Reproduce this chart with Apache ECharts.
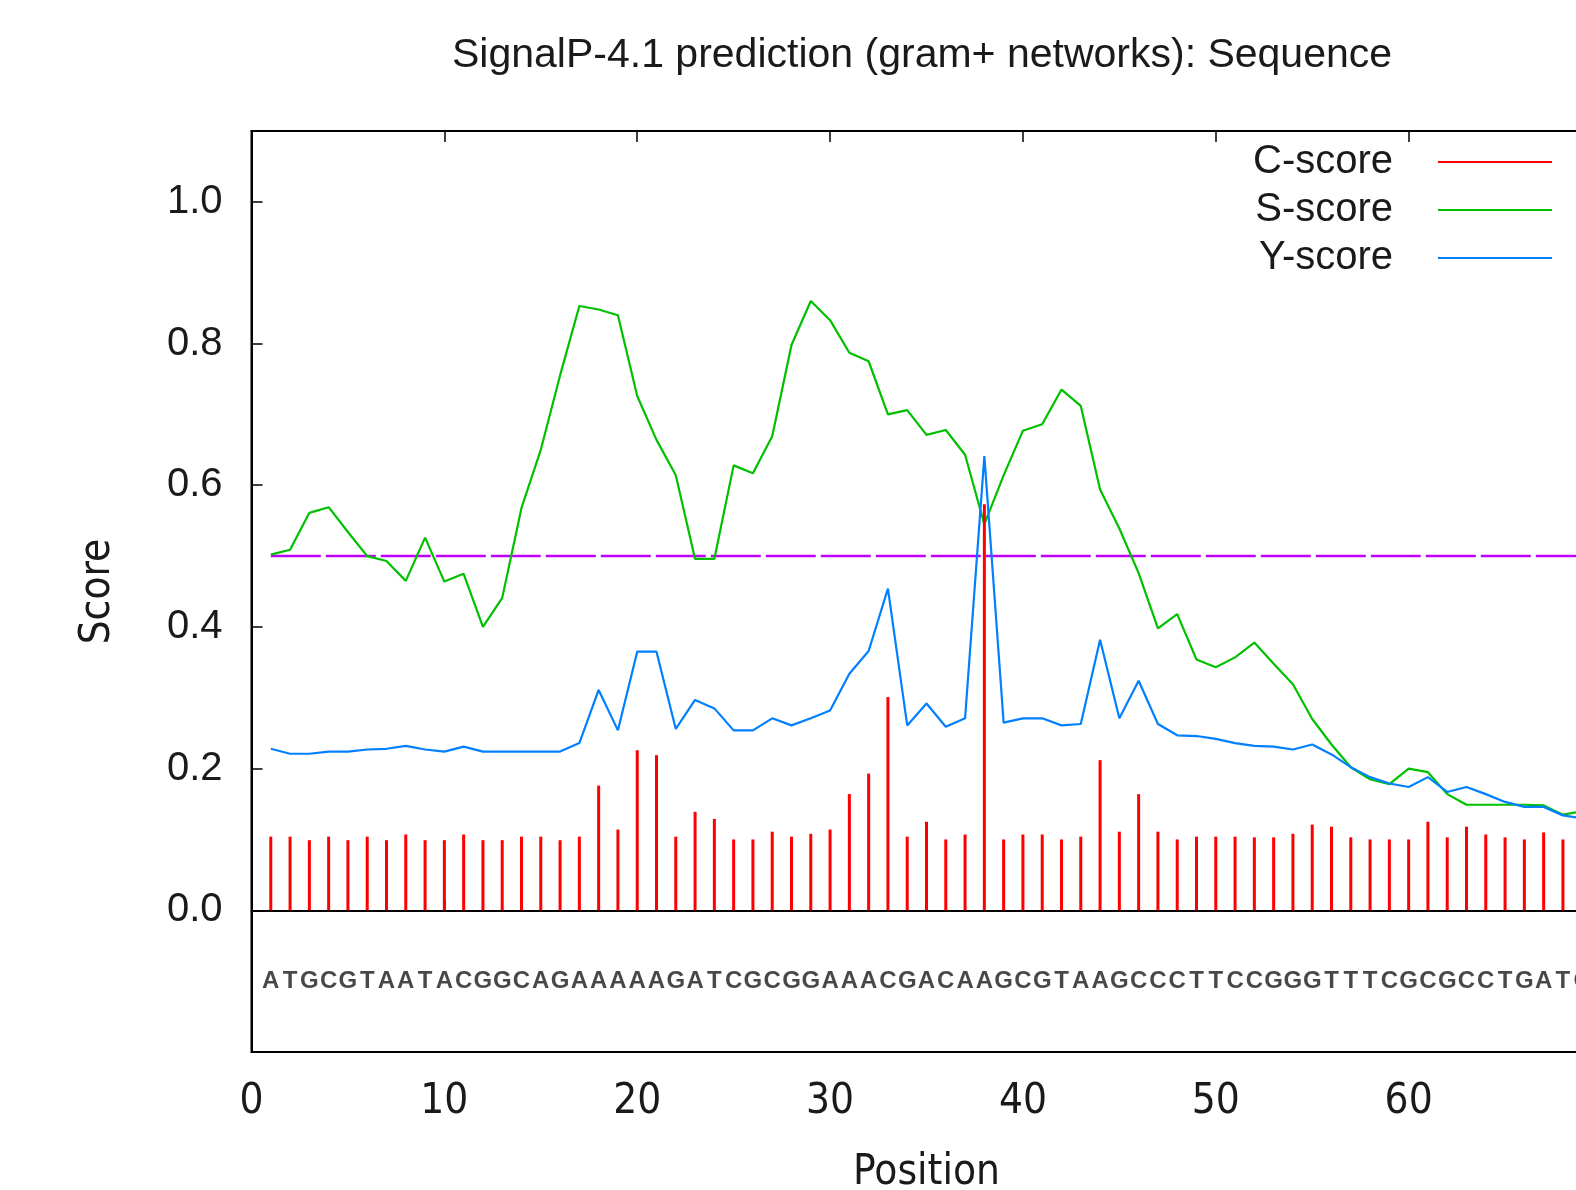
<!DOCTYPE html>
<html>
<head>
<meta charset="utf-8">
<title>SignalP-4.1 prediction</title>
<script src="https://cdn.jsdelivr.net/npm/echarts@6/dist/echarts.min.js"></script>
<style>
html, body { margin: 0; padding: 0; background: #fff; }
#chart { width: 1576px; height: 1190px; }
</style>
</head>
<body>
<div id="chart"></div>
<script>
// sequence shown under the plot, one letter per position
var sequence = 'ATGCGTAATACGGCAGAAAAAGATCGCGGAAACGACAAGCGTAAGCCCTTCCGGGTTTCGCGCCTGATC'.split('');
var positions = sequence.map(function (s, i) { return i + 1; });

var cScore = [0.104, 0.104, 0.099, 0.104, 0.099, 0.104, 0.099, 0.107, 0.099, 0.099,
    0.107, 0.099, 0.099, 0.104, 0.104, 0.099, 0.104, 0.176, 0.114, 0.226,
    0.219, 0.104, 0.139, 0.129, 0.100, 0.100, 0.111, 0.104, 0.108, 0.114,
    0.164, 0.193, 0.301, 0.104, 0.125, 0.100, 0.107, 0.573, 0.100, 0.107,
    0.107, 0.100, 0.104, 0.212, 0.111, 0.164, 0.111, 0.100, 0.104, 0.104,
    0.104, 0.103, 0.103, 0.108, 0.121, 0.118, 0.103, 0.100, 0.100, 0.100,
    0.125, 0.103, 0.118, 0.107, 0.103, 0.100, 0.110, 0.100, 0.100];

var sScore = [0.502, 0.509, 0.561, 0.569, 0.534, 0.500, 0.493, 0.465, 0.526, 0.464,
    0.475, 0.400, 0.441, 0.568, 0.650, 0.755, 0.853, 0.848, 0.840, 0.726,
    0.664, 0.614, 0.496, 0.496, 0.628, 0.617, 0.669, 0.798, 0.860, 0.833,
    0.787, 0.775, 0.700, 0.706, 0.671, 0.678, 0.643, 0.545, 0.614, 0.677,
    0.686, 0.735, 0.712, 0.594, 0.539, 0.476, 0.398, 0.418, 0.354, 0.343,
    0.357, 0.378, 0.348, 0.319, 0.270, 0.234, 0.202, 0.185, 0.178, 0.200,
    0.195, 0.164, 0.149, 0.149, 0.149, 0.149, 0.148, 0.135, 0.140];

var yScore = [0.228, 0.221, 0.221, 0.224, 0.224, 0.227, 0.228, 0.232, 0.227, 0.224,
    0.231, 0.224, 0.224, 0.224, 0.224, 0.224, 0.236, 0.311, 0.254, 0.365,
    0.365, 0.256, 0.297, 0.285, 0.254, 0.254, 0.271, 0.261, 0.271, 0.282,
    0.334, 0.366, 0.454, 0.261, 0.292, 0.259, 0.271, 0.641, 0.265, 0.271,
    0.271, 0.261, 0.263, 0.382, 0.271, 0.324, 0.263, 0.247, 0.246, 0.242,
    0.236, 0.232, 0.231, 0.227, 0.234, 0.220, 0.202, 0.188, 0.179, 0.174,
    0.188, 0.167, 0.174, 0.164, 0.153, 0.146, 0.146, 0.134, 0.130];

var cutoff = 0.5;
var seqLevel = -0.1;

function pairs(vals) {
    return positions.map(function (p, i) { return [p, vals[i]]; });
}

var font = "'Liberation Sans', Arial, sans-serif";
var narrow = "'Liberation Sans Narrow', 'DejaVu Sans Condensed', 'Liberation Sans', sans-serif";

var myChart = echarts.init(document.getElementById('chart'));
var option = {
    backgroundColor: '#fff',
    animation: false,
    title: {
        text: 'SignalP-4.1 prediction (gram+ networks): Sequence',
        left: 447,
        top: 30,
        textStyle: { fontFamily: font, fontSize: 41, fontWeight: 'normal', color: '#1a1a1a' }
    },
    legend: {
        data: ['C-score', 'S-score', 'Y-score'],
        orient: 'vertical',
        left: 1248,
        top: 137,
        align: 'right',
        itemGap: 8,
        itemWidth: 114,
        itemHeight: 2,
        icon: 'rect',
        textStyle: { fontFamily: font, fontSize: 40, color: '#1a1a1a', lineHeight: 40, padding: [0, 40, 0, 0] }
    },
    grid: {
        left: 251.5,
        top: 131,
        width: 1350,
        height: 921,
        outerBoundsMode: 'none',
        show: true,
        borderColor: '#000',
        borderWidth: 2,
        backgroundColor: 'transparent'
    },
    xAxis: [{
        type: 'value',
        min: 0,
        max: 70,
        interval: 10,
        name: 'Position',
        nameLocation: 'middle',
        nameGap: 100,
        nameTextStyle: { fontFamily: narrow, fontSize: 42, color: '#1a1a1a' },
        axisLine: { show: true, lineStyle: { color: '#000', width: 2 } },
        axisTick: { show: true, inside: true, length: 11, lineStyle: { color: '#000', width: 1.5 } },
        axisLabel: { margin: 29, fontFamily: narrow, fontSize: 42, color: '#1a1a1a' },
        splitLine: { show: false }
    }, {
        type: 'value',
        position: 'top',
        min: 0,
        max: 70,
        interval: 10,
        axisLine: { show: true, lineStyle: { color: '#000', width: 2 } },
        axisTick: { show: true, inside: true, length: 11, lineStyle: { color: '#000', width: 1.5 } },
        axisLabel: { show: false },
        splitLine: { show: false }
    }],
    yAxis: {
        type: 'value',
        min: -0.2,
        max: 1.1,
        interval: 0.2,
        name: 'Score',
        nameLocation: 'middle',
        nameRotate: 90,
        nameGap: 132,
        nameTextStyle: { fontFamily: narrow, fontSize: 42, color: '#1a1a1a' },
        axisLine: { show: true, lineStyle: { color: '#000', width: 2 } },
        axisTick: { show: true, inside: true, length: 11, lineStyle: { color: '#000', width: 1.5 } },
        axisLabel: {
            margin: 29,
            fontFamily: font,
            fontSize: 40,
            color: '#1a1a1a',
            formatter: function (v) {
                if (v < -0.001 || v > 1.001) return '';
                return v.toFixed(1);
            }
        },
        splitLine: { show: false }
    },
    series: [{
        name: 'cutoff',
        type: 'line',
        data: pairs(positions.map(function () { return cutoff; })).concat([[70, cutoff]]),
        showSymbol: false,
        lineStyle: { color: '#c000ff', width: 2.5, type: [50, 5] },
        z: 1
    }, {
        name: 'C-score',
        type: 'bar',
        data: pairs(cScore),
        barWidth: 3,
        itemStyle: { color: '#ff0000' },
        z: 3
    }, {
        name: 'S-score',
        type: 'line',
        data: pairs(sScore),
        showSymbol: false,
        lineStyle: { color: '#00c000', width: 2.2 },
        itemStyle: { color: '#00c000' },
        z: 2
    }, {
        name: 'Y-score',
        type: 'line',
        data: pairs(yScore),
        showSymbol: false,
        lineStyle: { color: '#0080ff', width: 2.2 },
        itemStyle: { color: '#0080ff' },
        z: 2
    }, {
        name: 'sequence',
        type: 'scatter',
        data: positions.map(function (p, i) { return [p, seqLevel, sequence[i]]; }),
        symbolSize: 0,
        silent: true,
        label: {
            show: true,
            position: 'inside',
            formatter: function (d) { return d.value[2]; },
            fontFamily: font,
            fontSize: 24,
            fontWeight: 'bold',
            color: '#1a1a1a'
        }
    }]
};
myChart.setOption(option);
</script>
</body>
</html>
